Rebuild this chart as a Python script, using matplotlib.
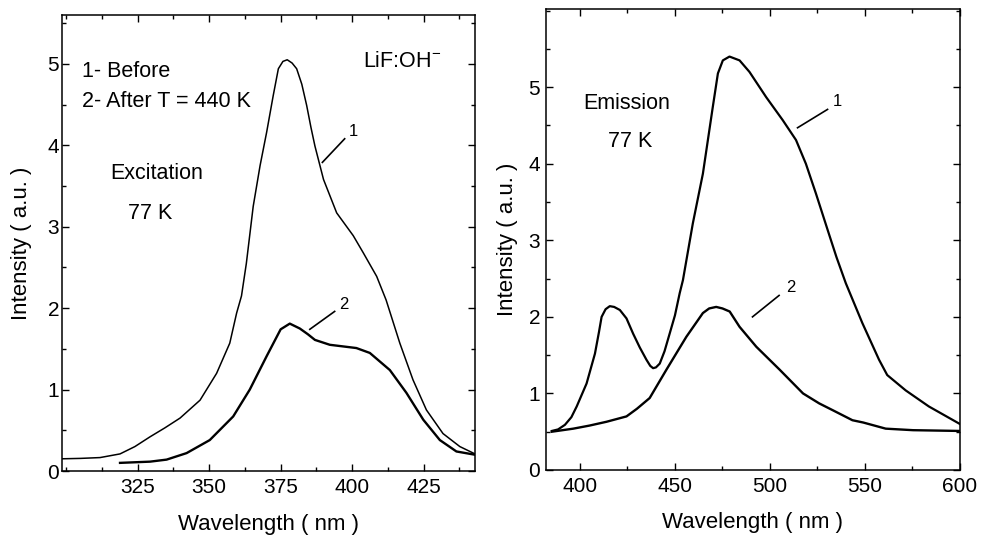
import matplotlib
matplotlib.use("Agg")
import matplotlib.pyplot as plt
from matplotlib.ticker import MultipleLocator

plt.rcParams['font.family'] = ['Liberation Sans', 'DejaVu Sans']
plt.rcParams['mathtext.fontset'] = 'custom'
plt.rcParams['mathtext.rm'] = 'Liberation Sans'
plt.rcParams['mathtext.it'] = 'Liberation Sans:italic'

# ---- Excitation (left panel) ----
exc1_wl = [298.5, 305, 311.8, 318.8, 324, 329.3, 334.5, 339.8, 346.8, 352.6, 357.2, 359.6,
           361.3, 363, 365.4, 367.8, 370.1, 372.4, 374.2, 375.8, 377.3, 379, 380.6, 382.4,
           384.1, 385.6, 387.0, 390.0, 394.6, 400.4, 403.9, 408.6, 411.9, 416.7, 421.3,
           426.0, 431.8, 437.7, 443]
exc1_int = [0.15, 0.155, 0.165, 0.21, 0.3, 0.42, 0.53, 0.65, 0.87, 1.2, 1.57, 1.94,
            2.15, 2.55, 3.25, 3.75, 4.16, 4.61, 4.94, 5.03, 5.05, 5.01, 4.94, 4.75,
            4.49, 4.22, 3.99, 3.58, 3.17, 2.89, 2.68, 2.39, 2.1, 1.57, 1.12,
            0.75, 0.46, 0.30, 0.21]
exc2_wl = [318.8, 329.3, 335.1, 342.1, 350.2, 358.4, 364.2, 370.1, 375, 378.2, 381.7,
           384.5, 387.0, 392.2, 401.5, 406.2, 413.2, 419.0, 424.9, 430.7, 436.5, 443]
exc2_int = [0.10, 0.115, 0.14, 0.22, 0.38, 0.67, 1.0, 1.41, 1.74, 1.81, 1.75,
            1.68, 1.61, 1.55, 1.51, 1.45, 1.24, 0.96, 0.63, 0.38, 0.24, 0.2]

# ---- Emission (right panel) ----
em1_wl = [385.2, 388.5, 392.1, 395.5, 398.3, 403.5, 407.9, 410, 411.4, 413.5, 415.7, 418,
          421, 424.5, 428, 431.5, 435, 437, 438.5, 440, 442, 444.5, 447.2, 450, 452.5,
          454.2, 459.4, 464.7, 469.9, 472.6, 475.2, 478.7, 484, 489.2, 498, 506.7,
          513.7, 518.9, 524.2, 531.2, 535, 539.9, 548.6, 557.4, 561.7, 571.4, 583.6, 600]
em1_int = [0.51, 0.53, 0.59, 0.69, 0.83, 1.13, 1.52, 1.8, 2.0, 2.1, 2.14, 2.13,
           2.09, 1.98, 1.78, 1.6, 1.44, 1.36, 1.33, 1.34, 1.39, 1.55, 1.78, 2.02, 2.31,
           2.48, 3.22, 3.87, 4.74, 5.18, 5.35, 5.40, 5.35, 5.20, 4.87, 4.57,
           4.31, 4.0, 3.61, 3.07, 2.78, 2.44, 1.92, 1.44, 1.24, 1.04, 0.83, 0.6]
em2_wl = [385.2, 396.5, 405, 414, 424.5, 430, 436.7, 445.5, 456, 464.7, 468, 471.7,
          475, 478.8, 484, 492.8, 505.1, 517.4, 525.9, 533.1, 543.4, 549.1, 560.9,
          575.3, 600]
em2_int = [0.5, 0.54, 0.58, 0.63, 0.70, 0.8, 0.94, 1.31, 1.74, 2.05, 2.11, 2.13,
           2.11, 2.07, 1.87, 1.61, 1.31, 1.0, 0.87, 0.78, 0.65, 0.62, 0.54,
           0.52, 0.51]

exc_xticks = [325, 350, 375, 400, 425]
em_xticks = [400, 450, 500, 550, 600]
yticks = [0, 1, 2, 3, 4, 5]

fig = plt.figure(figsize=(9.81, 5.35), dpi=100)
axL = fig.add_axes([0.0632, 0.1196, 0.4210, 0.8524])
axR = fig.add_axes([0.5563, 0.1215, 0.4223, 0.8615])

FS_TICK = 15
FS_LAB = 16
FS_TXT = 15.5
FS_NUM = 12

for ax in (axL, axR):
    for s in ax.spines.values():
        s.set_linewidth(1.1)
    ax.tick_params(which='both', direction='in', top=True, right=True,
                   labelsize=FS_TICK, width=1.0)
    ax.tick_params(which='major', length=5)
    ax.tick_params(which='minor', length=3)
    ax.set_yticks(yticks)
    ax.yaxis.set_minor_locator(MultipleLocator(0.5))
    ax.tick_params(axis='x', pad=5)

# Left
axL.plot(exc1_wl, exc1_int, color='black', lw=1.1)
axL.plot(exc2_wl, exc2_int, color='black', lw=1.7)
axL.set_xlim(298.5, 443)
axL.set_ylim(0, 5.6)
axL.set_xticks(exc_xticks)
axL.xaxis.set_minor_locator(MultipleLocator(12.5))
axL.tick_params(axis='y', pad=2)
axL.set_xlabel('Wavelength ( nm )', fontsize=FS_LAB)
axL.set_ylabel('Intensity ( a.u. )', fontsize=FS_LAB)
axL.xaxis.set_label_coords(0.5, -0.118)
axL.yaxis.set_label_coords(-0.097, 0.5)
axL.xaxis.label.set_va('center')
axL.yaxis.label.set_va('center')

axL.text(305.5, 4.84, '1- Before', fontsize=FS_TXT, va='baseline')
axL.text(305.5, 4.47, '2- After T = 440 K', fontsize=FS_TXT, va='baseline')
axL.text(403.7, 4.96, 'LiF:OH$^{-}$', fontsize=FS_TXT, va='baseline')
axL.text(315.3, 3.58, 'Excitation', fontsize=FS_TXT, va='baseline')
axL.text(321.6, 3.09, '77 K', fontsize=FS_TXT, va='baseline')
axL.plot([389.6, 397.4], [3.79, 4.08], color='black', lw=1.2)
axL.text(400.4, 4.17, '1', fontsize=FS_NUM, ha='center', va='center')
axL.plot([385.2, 393.9], [1.74, 1.96], color='black', lw=1.2)
axL.text(397.0, 2.05, '2', fontsize=FS_NUM, ha='center', va='center')

# Right
axR.plot(em1_wl, em1_int, color='black', lw=1.6)
axR.plot(em2_wl, em2_int, color='black', lw=1.7)
axR.set_xlim(382, 600)
axR.set_ylim(0, 6.02)
axR.set_xticks(em_xticks)
axR.xaxis.set_minor_locator(MultipleLocator(25))
axR.tick_params(axis='y', pad=4)
axR.set_xlabel('Wavelength ( nm )', fontsize=FS_LAB)
axR.set_ylabel('Intensity ( a.u. )', fontsize=FS_LAB)
axR.xaxis.set_label_coords(0.5, -0.114)
axR.yaxis.set_label_coords(-0.093, 0.5)
axR.xaxis.label.set_va('center')
axR.yaxis.label.set_va('center')

axR.text(401.7, 4.72, 'Emission', fontsize=FS_TXT, va='baseline')
axR.text(414.8, 4.22, '77 K', fontsize=FS_TXT, va='baseline')
axR.plot([514.5, 530.3], [4.47, 4.71], color='black', lw=1.2)
axR.text(535.5, 4.81, '1', fontsize=FS_NUM, ha='center', va='center')
axR.plot([490.8, 504.8], [2.0, 2.28], color='black', lw=1.2)
axR.text(511.0, 2.39, '2', fontsize=FS_NUM, ha='center', va='center')

fig.savefig('out.png', dpi=100)
